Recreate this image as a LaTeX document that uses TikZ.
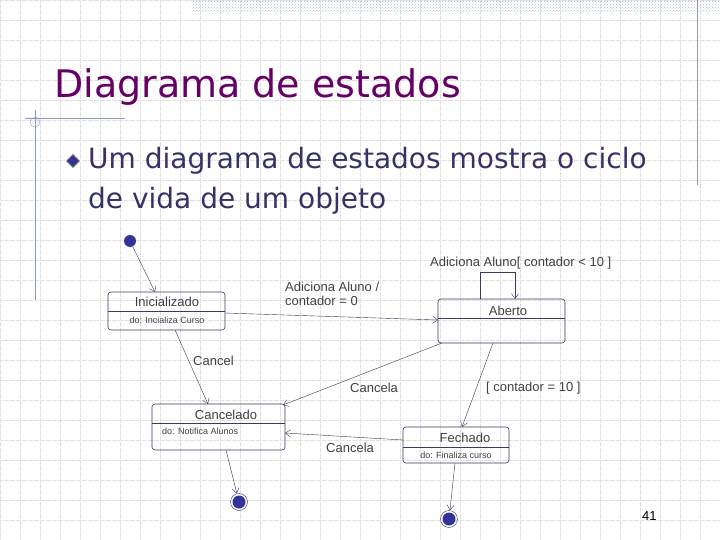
\documentclass[tikz,border=0pt]{standalone}
\usepackage{fontspec}
\setmainfont{DejaVu Sans}
\newfontfamily\diagfont{Liberation Sans}
\usetikzlibrary{patterns,arrows.meta,shapes.geometric}
\definecolor{titlecol}{HTML}{660066}
\definecolor{bodycol}{HTML}{333366}
\definecolor{linecol}{HTML}{3A3A5C}
\definecolor{dotcol}{HTML}{333399}
\definecolor{framecol}{HTML}{8A9AC8}
\tikzset{
  state/.style={draw=linecol, rounded corners=3pt, semithick},
  trans/.style={linecol, -{Straight Barb[length=5pt,width=7pt]}},
  lbl/.style={font=\diagfont\fontsize{13}{14}\selectfont, text=black!75, inner sep=0pt},
  act/.style={font=\diagfont\fontsize{9}{10}\selectfont, text=black!75, inner sep=0pt},
}
\begin{document}
\begin{tikzpicture}[x=1pt,y=-1pt]
    \useasboundingbox (0,0) rectangle (720,540);
    % Background
    \fill[white] (0,0) rectangle (720,540);
    \foreach \g in {0,20,...,720} \draw[black!12, densely dotted, very thin] (\g,0) -- (\g,540);
    \foreach \g in {0,20,...,540} \draw[black!12, densely dotted, very thin] (0,\g) -- (720,\g);
    \fill[pattern=crosshatch dots, pattern color=framecol!70] (192,0) rectangle (720,12);
    \draw[framecol] (697,0) -- (697,185);
    \draw[framecol] (25,118) -- (125,118);
    \draw[framecol] (35,110) -- (35,300);
    \draw[framecol] (35,122) circle (5);

    % Title and bullet
    \node[anchor=west, text=titlecol, font=\fontsize{38}{40}\selectfont, inner sep=0pt] (title) at (54,87) {Diagrama de estados};
    \node[draw=black!60, fill=dotcol, diamond, minimum size=14pt, inner sep=0pt, line width=1.5pt] (bullet) at (73,161) {};
    \draw[white, thick] (bullet.north) -- (bullet.east) -- (bullet.south) -- (bullet.west) -- cycle;
    \node[anchor=west, text=bodycol, font=\fontsize{28}{40}\selectfont, inner sep=0pt, align=left] (body) at (88,181)
      {Um diagrama de estados mostra o ciclo\\de vida de um objeto};

    % States
    \draw[state] (108,292) rectangle (225,330); \draw[linecol] (108,311) -- (225,311);
    \node[lbl] (ini) at (167,302) {Inicializado};
    \node[act] (inido) at (167,320) {do: Incializa Curso};
    \coordinate (iniR) at (225,313); \coordinate (iniB) at (175,330);

    \draw[state] (438,299) rectangle (565,343); \draw[linecol] (438,318) -- (565,318);
    \node[lbl] (abe) at (508,311) {Aberto};
    \coordinate (abeL) at (438,320); \coordinate (abeBL) at (442,343); \coordinate (abeB) at (493,343);

    \draw[state] (152,404) rectangle (285,450); \draw[linecol] (152,423) -- (285,423);
    \node[lbl] (can) at (226,415) {Cancelado};
    \node[act, anchor=west] (cando) at (162,431) {do: Notifica Alunos};
    \coordinate (canT) at (208,404); \coordinate (canR) at (285,433); \coordinate (canB) at (226,450);

    \draw[state] (403,427) rectangle (509,463); \draw[linecol] (403,447) -- (509,447);
    \node[lbl] (fec) at (465,438) {Fechado};
    \node[act] (fecdo) at (456,455) {do: Finaliza curso};
    \coordinate (fecL) at (403,440); \coordinate (fecT) at (462,427); \coordinate (fecB) at (455,463);

    % Start and end points
    \fill[dotcol] (130,241) circle (6);
    \node[inner sep=0pt, minimum size=12pt] (start) at (130,241) {};
    \node[draw=linecol, circle, minimum size=17pt, inner sep=0pt] (end1) at (239,502) {};
    \fill[dotcol] (end1) circle (6.5);
    \node[draw=linecol, circle, minimum size=17pt, inner sep=0pt] (end2) at (449,519) {};
    \fill[dotcol] (end2) circle (6.5);

    % Transitions
    \draw[trans] (start) -- (155,292);
    \draw[trans] (iniR) -- (abeL);
    \draw[trans] (iniB) -- (canT);
    \draw[trans] (abeBL) -- (283,405);
    \draw[trans] (abeB) -- (fecT);
    \draw[trans] (fecL) -- (canR);
    \draw[trans] (canB) -- (end1);
    \draw[trans] (fecB) -- (end2);
    \draw[trans] (480,299) -- (480,272) -- (515,272) -- (515,299);

    % Labels
    \node[lbl, anchor=west, align=left] (l1) at (285,294) {Adiciona Aluno /\\contador = 0};
    \node[lbl, anchor=west] (l2) at (430,263) {Adiciona Aluno[ contador < 10 ]};
    \node[lbl, anchor=west] (l3) at (193,361) {Cancel};
    \node[lbl, anchor=west] (l4) at (350,388) {Cancela};
    \node[lbl, anchor=west] (l5) at (486,388) {[ contador = 10 ]};
    \node[lbl, anchor=west] (l6) at (326,448) {Cancela};
    \node[font=\diagfont\fontsize{13}{14}\selectfont, anchor=west, inner sep=0pt] (num) at (642,516) {41};
\end{tikzpicture}
\end{document}
